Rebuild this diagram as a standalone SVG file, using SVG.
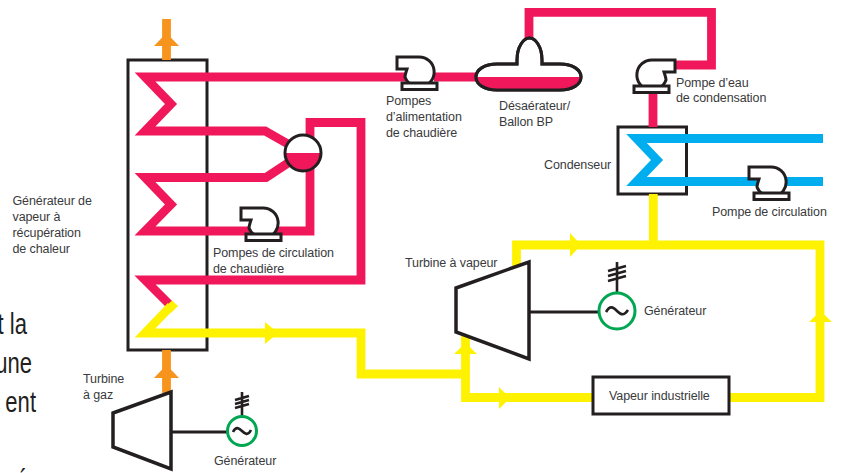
<svg xmlns="http://www.w3.org/2000/svg" width="841" height="473" viewBox="0 0 841 473">
<style>
text{font-family:"Liberation Sans",Arial,sans-serif;font-size:12.5px;fill:#3a3a3c;letter-spacing:-.1px}
text.big{font-size:29px;fill:#231f20;letter-spacing:0;text-anchor:end}
.p{fill:none;stroke-width:8.8;stroke-linejoin:miter;stroke-miterlimit:10}
.r{stroke:#f0185a}.y{stroke:#fff200}.b{stroke:#00aeef}.o{stroke:#f7941d}
.k{fill:#fff;stroke:#231f20;stroke-width:3}
.n{fill:none;stroke:#231f20;stroke-width:3}
.g{fill:#fff;stroke:#00a651;stroke-width:3}
.fy{fill:#fff200}.fo{fill:#f7941d}
.a{fill:none;stroke:#231f20;stroke-width:2.6}
</style>
<defs>
<g id="pump"><path class="k" d="M-22-15H0A15 15 0 1 1-14 5C-14 3-13 0-12-3H-22Z"/><rect class="k" x="-17" y="11" width="35" height="6.5"/></g>
<g id="pumpr"><path class="k" d="M23-15H0A15 15 0 1 0 14 5C14 3 13 0 12-3H23Z"/><rect class="k" x="-18" y="11" width="35" height="6.5"/></g>
</defs>
<g id="hrsg"><rect class="n" x="128" y="60" width="79" height="290"/></g>
<g id="condenser"><rect class="n" x="618" y="127" width="68.500" height="67"/></g>
<g id="connectors">
<path class="p o" d="M166.500 19V60M166.500 350V393"/>
<path class="fo" d="M154 46L166.500 33L179 46ZM154 378L166.500 365L179 378Z"/>
<path class="p r" d="M420 77H145L171 104L145 131H265L288 144"/>
<path class="p r" d="M288 163L266 177.500H145L171 204.500L145 231H310V122.500H361V280H145L170 305"/>
<path class="p y" d="M171 306L145 333H361V374H466"/>
<path class="fy" d="M172 300.500L178 306L171 313L166 306Z"/>
<path class="p y" d="M465.500 335V397.500H593M729 397.500H820V245H516.500V270M653.300 194V245"/>
<path class="fy" d="M265 322L278 333L265 344ZM570 233L581 245L570 257ZM499 387L510 398L499 409ZM454 354L465.500 343L477 354ZM809 322L820.500 311L832 322Z"/>
<path class="p r" d="M434 77H480M529 40V12.300H711.500V65H674M653 92V127"/>
<path class="p b" d="M823 138.500H636.500L657 160L636.500 181.500H823"/>
</g>
<g id="drum"><circle cx="303" cy="153" r="18" fill="#fff"/><path d="M285 153H321A18 18 0 0 1 285 153Z" fill="#f0185a"/><circle class="n" cx="303" cy="153" r="18"/></g>
<g id="pump-hp"><use href="#pump" x="419" y="72"/></g>
<g id="pump-circ-boiler"><use href="#pump" x="263" y="223"/></g>
<g id="deaerator"><path class="k" d="M517 64H497C484 64 476 70 476 77C476 84 484 90 497 90H560C573 90 581 84 581 77C581 70 573 64 560 64H542V60C542 46 535 38 529.500 38C524 38 517 46 517 60Z"/><path d="M477 77H580C579 84 572 89 560 89H497C485 89 478 84 477 77Z" fill="#f0185a"/><path class="n" d="M517 64H497C484 64 476 70 476 77C476 84 484 90 497 90H560C573 90 581 84 581 77C581 70 573 64 560 64H542V60C542 46 535 38 529.500 38C524 38 517 46 517 60Z"/></g>
<g id="pump-cond"><use href="#pumpr" x="652" y="75"/></g>
<g id="pump-circ"><use href="#pump" x="771" y="182"/></g>
<g id="steam-turbine"><path class="k" d="M456 288L529 262V359L456 332Z" style="stroke-width:3.500"/><path class="n" d="M529 312H600"/></g>
<g id="gen-st"><path class="a" d="M617 293V262M608 271L626 266M608 276L626 271M608 281L626 276"/><circle class="g" cx="617" cy="311" r="18"/><path class="a" d="M606 312C610 305 613 307 617 311C621 315 624 316 628 310"/></g>
<g id="gas-turbine"><path class="k" d="M113 413L171 392V469L113 447Z" style="stroke-width:3.500"/><path class="n" d="M171 432H227"/></g>
<g id="gen-gt"><path class="a" d="M242 416V392M235 400L249 396M235 404L249 400M235 408L249 404"/><circle class="g" cx="242" cy="431" r="14.500"/><path class="a" d="M233 432C236 426 239 428 242 431C245 434 248 436 251 430"/></g>
<g id="process-steam"><rect class="k" x="593" y="377" width="136" height="37"/></g>
<g id="labels">
<text x="12.500" y="205">Générateur de</text><text x="12.500" y="221">vapeur à</text><text x="12.500" y="237">récupération</text><text x="12.500" y="253">de chaleur</text>
<text x="386" y="105">Pompes</text><text x="386" y="121">d’alimentation</text><text x="386" y="137">de chaudière</text>
<text x="499" y="110">Désaérateur/</text><text x="499" y="126">Ballon BP</text>
<text x="676" y="87">Pompe d’eau</text><text x="676" y="102">de condensation</text>
<text x="544" y="169">Condenseur</text>
<text x="712" y="216">Pompe de circulation</text>
<text x="213" y="257">Pompes de circulation</text><text x="213" y="273">de chaudière</text>
<text x="405" y="267">Turbine à vapeur</text>
<text x="644" y="315">Générateur</text>
<text x="83" y="383">Turbine</text><text x="83" y="399">à gaz</text>
<text x="214" y="465">Générateur</text>
<text x="609" y="400">Vapeur industrielle</text>
<text class="big" transform="translate(27 334) scale(.76 1)">t la</text><text class="big" transform="translate(32 373) scale(.76 1)">une</text><text class="big" transform="translate(36 412) scale(.76 1)">ent</text><text class="big" transform="translate(28 490) scale(.76 1)">é</text>
</g>
</svg>
